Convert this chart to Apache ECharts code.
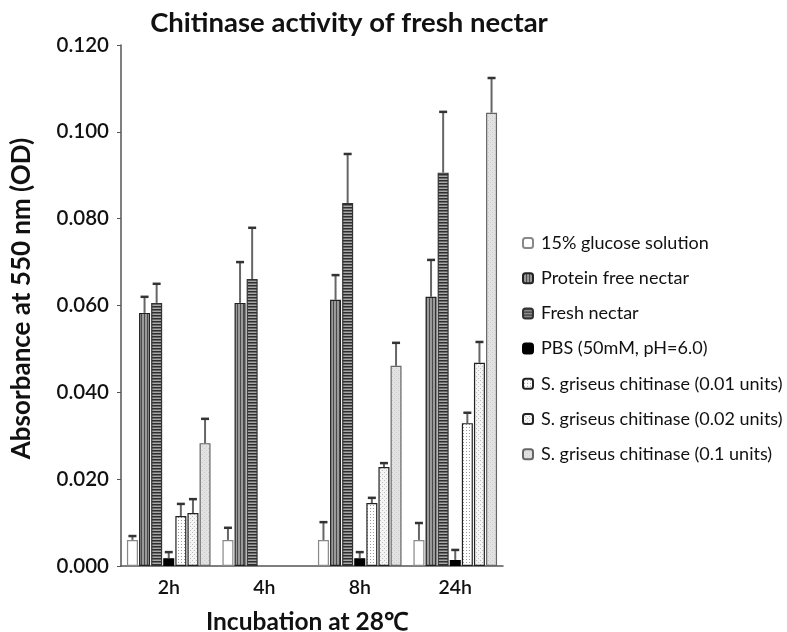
<!DOCTYPE html>
<html><head><meta charset="utf-8">
<script src="https://cdn.jsdelivr.net/npm/echarts@6/dist/echarts.min.js"></script>
<style>html,body{margin:0;padding:0;background:#fff}#c{width:787px;height:632px}</style>
</head><body><div id="c"></div>
<script>
const categories = ['2h', '4h', '8h', '24h'];
const seriesNames = ['15% glucose solution', 'Protein free nectar', 'Fresh nectar', 'PBS (50mM, pH=6.0)',
  'S. griseus chitinase (0.01 units)', 'S. griseus chitinase (0.02 units)', 'S. griseus chitinase (0.1 units)'];
const glucose = [0.006, 0.006, 0.006, 0.006];
const glucoseErr = [0.0009, 0.0028, 0.0041, 0.0039];
const proteinFree = [0.0583, 0.0606, 0.0613, 0.062];
const proteinFreeErr = [0.0037, 0.0094, 0.0057, 0.0085];
const fresh = [0.0606, 0.0661, 0.0836, 0.0906];
const freshErr = [0.0044, 0.0118, 0.0113, 0.014];
const pbs = [0.0018, null, 0.0018, 0.0014];
const pbsErr = [0.0014, null, 0.0014, 0.0023];
const chi001 = [0.0115, null, 0.0145, 0.0329];
const chi001Err = [0.0028, null, 0.0012, 0.0024];
const chi002 = [0.0122, null, 0.0228, 0.0468];
const chi002Err = [0.0032, null, 0.0009, 0.0048];
const chi01 = [0.0283, null, 0.0461, 0.1044];
const chi01Err = [0.0056, null, 0.0053, 0.008];
const yTicks = [0, 0.02, 0.04, 0.06, 0.08, 0.10, 0.12];

const values = [glucose, proteinFree, fresh, pbs, chi001, chi002, chi01];
const errors = [glucoseErr, proteinFreeErr, freshErr, pbsErr, chi001Err, chi002Err, chi01Err];

function pattern(w, h, bg, draw) {
  const c = document.createElement('canvas');
  c.width = w; c.height = h;
  const g = c.getContext('2d');
  g.fillStyle = bg; g.fillRect(0, 0, w, h);
  if (draw) draw(g);
  return { image: c, repeat: 'repeat' };
}
const fills = [
  '#ffffff',
  pattern(3, 3, '#9a9a9a', g => { g.fillStyle = '#4a4a4a'; g.fillRect(0, 0, 1, 3); }),
  pattern(3, 3, '#a8a8a8', g => { g.fillStyle = '#2e2e2e'; g.fillRect(0, 0, 3, 1); g.fillStyle = '#6a6a6a'; g.fillRect(0, 1, 3, 1); }),
  '#000000',
  pattern(3, 3, '#ffffff', g => { g.fillStyle = '#9a9a9a'; g.fillRect(1, 1, 1, 1); }),
  pattern(4, 4, '#f4f4f4', g => { g.fillStyle = '#bdbdbd'; g.fillRect(0, 0, 1, 1); g.fillRect(2, 2, 1, 1); }),
  pattern(4, 4, '#e2e2e2', g => { g.fillStyle = '#cacaca'; g.fillRect(0, 0, 1, 1); g.fillRect(2, 2, 1, 1); })
];
const borders = ['#888888', '#222222', '#333333', '#000000', '#222222', '#222222', '#666666'];

const BAR_W = 11, BAR_GAP = 0.1;
const step = BAR_W * (1 + BAR_GAP);

const barSeries = seriesNames.map((name, i) => ({
  name, type: 'bar', data: values[i], barWidth: BAR_W, barGap: (BAR_GAP * 100) + '%',
  itemStyle: { color: fills[i], borderColor: borders[i], borderWidth: 1.2 },
  emphasis: { disabled: true }, animation: false
}));

const errData = [];
values.forEach((arr, si) => arr.forEach((v, ci) => {
  if (v != null && errors[si][ci] != null) errData.push([ci, si, v, errors[si][ci]]);
}));

const errSeries = {
  type: 'custom', z: 10, animation: false, silent: true,
  encode: { x: 0, y: 2 },
  renderItem: function (params, api) {
    const ci = api.value(0), si = api.value(1), v = api.value(2), e = api.value(3);
    const base = api.coord([ci, v]);
    const top = api.coord([ci, v + e]);
    const x = base[0] + (si - 3) * step;
    const half = 4;
    return {
      type: 'group', children: [
        { type: 'line', shape: { x1: x, y1: base[1], x2: x, y2: top[1] }, style: { stroke: '#666', lineWidth: 2 } },
        { type: 'line', shape: { x1: x - half, y1: top[1], x2: x + half, y2: top[1] }, style: { stroke: '#333', lineWidth: 2.5 } }
      ]
    };
  },
  data: errData
};

const chart = echarts.init(document.getElementById('c'));
chart.setOption({
  backgroundColor: '#fff',
  animation: false,
  textStyle: { fontFamily: 'Lato' },
  title: {
    text: 'Chitinase activity of fresh nectar', left: 344, top: 4, textAlign: 'center',
    textStyle: { fontFamily: 'Lato', fontWeight: 'bold', fontSize: 27.5, color: '#111' }
  },
  legend: {
    data: seriesNames, orient: 'vertical', left: 517, top: 229,
    itemWidth: 10, itemHeight: 10, itemGap: 17.2,
    textStyle: { fontFamily: 'Lato', fontSize: 18, color: '#111', lineHeight: 18, padding: [0, 0, 0, 3] },
    selectedMode: false
  },
  grid: { left: 121, right: 284, top: 45, bottom: 66, outerBoundsMode: 'none', containLabel: false },
  xAxis: {
    type: 'category', data: categories,
    axisLine: { lineStyle: { color: '#555', width: 1.5 } },
    axisTick: { show: false },
    axisLabel: { fontFamily: 'Lato', fontSize: 19.5, fontWeight: 600, color: '#111', margin: 12 },
    name: 'Incubation at 28℃', nameLocation: 'middle', nameGap: 44,
    nameTextStyle: { fontFamily: 'Lato', fontWeight: 'bold', fontSize: 24.5, color: '#111', padding: [0, 10, 0, 0] }
  },
  yAxis: {
    type: 'value', min: yTicks[0], max: yTicks[yTicks.length - 1], interval: yTicks[1] - yTicks[0],
    splitLine: { show: false },
    axisLine: { show: true, lineStyle: { color: '#555', width: 1.5 } },
    axisTick: { show: true, length: 4, lineStyle: { color: '#555' } },
    axisLabel: { fontFamily: 'Lato', fontSize: 20.5, fontWeight: 600, color: '#111', margin: 12, formatter: v => v.toFixed(3) },
    name: 'Absorbance at 550 nm (OD)', nameLocation: 'middle', nameGap: 86,
    nameTextStyle: { fontFamily: 'Lato', fontWeight: 'bold', fontSize: 26, color: '#111', padding: [0, 0, 0, 14] }
  },
  series: barSeries.concat([errSeries])
});
</script></body></html>
